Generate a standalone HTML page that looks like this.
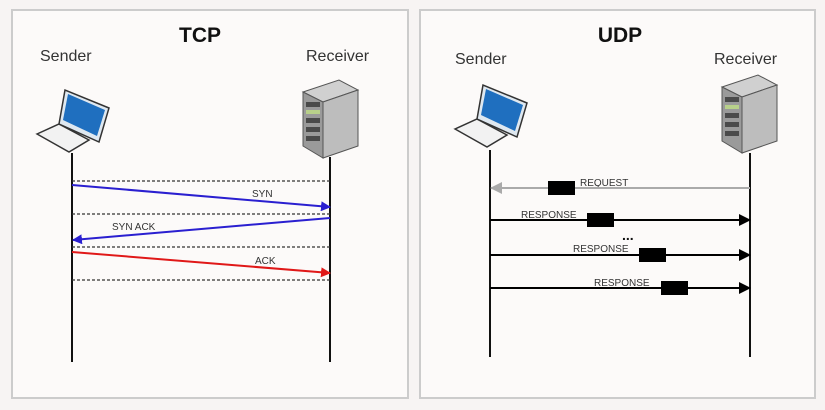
<!DOCTYPE html>
<html><head><style>body{margin:0;background:#f7f4f3}svg{display:block}</style></head><body>
<svg width="825" height="410" xmlns="http://www.w3.org/2000/svg" font-family="Liberation Sans, sans-serif">
<defs>
<g id="laptop">
<polygon points="0,48 22,38 52,54 32,66" fill="#f2f2f2" stroke="#333" stroke-width="1.5"/>
<polygon points="22,38 28,4 72,22 62,56" fill="#dfe8f0" stroke="#333" stroke-width="1.5"/>
<polygon points="26,34 31,8 68,24 60,50" fill="#1f6fbf"/>
</g>
<g id="server">
<polygon points="0,12 36,0 55,10 20,22" fill="#d0d0d0" stroke="#555" stroke-width="1"/>
<polygon points="0,12 20,22 20,78 0,66" fill="#9a9a9a" stroke="#555" stroke-width="1"/>
<polygon points="20,22 55,10 55,66 20,78" fill="#bdbdbd" stroke="#555" stroke-width="1"/>
<rect x="3" y="22" width="14" height="5" fill="#4a4a4a"/>
<rect x="3" y="30" width="14" height="4" fill="#b8d08a"/>
<rect x="3" y="38" width="14" height="5" fill="#4a4a4a"/>
<rect x="3" y="47" width="14" height="5" fill="#4a4a4a"/>
<rect x="3" y="56" width="14" height="5" fill="#4a4a4a"/>
</g>
<marker id="ab" markerWidth="10" markerHeight="10" refX="9" refY="5" orient="auto" markerUnits="userSpaceOnUse"><path d="M0,0 L10,5 L0,10z" fill="#2a1fd0"/></marker>
<marker id="ar" markerWidth="10" markerHeight="10" refX="9" refY="5" orient="auto" markerUnits="userSpaceOnUse"><path d="M0,0 L10,5 L0,10z" fill="#e01818"/></marker>
<marker id="ak" markerWidth="12" markerHeight="12" refX="11" refY="6" orient="auto" markerUnits="userSpaceOnUse"><path d="M0,0 L12,6 L0,12z" fill="#000"/></marker>
<marker id="ag" markerWidth="12" markerHeight="12" refX="11" refY="6" orient="auto" markerUnits="userSpaceOnUse"><path d="M0,0 L12,6 L0,12z" fill="#aaa"/></marker>
</defs>
<rect x="12" y="10" width="396" height="388" fill="#fcfaf9" stroke="#ccc" stroke-width="2"/>
<rect x="420" y="10" width="395" height="388" fill="#fcfaf9" stroke="#ccc" stroke-width="2"/>
<text x="200" y="42" font-size="21" font-weight="bold" text-anchor="middle" fill="#111">TCP</text>
<text x="620" y="42" font-size="21" font-weight="bold" text-anchor="middle" fill="#111">UDP</text>
<g font-size="16" fill="#333">
<text x="40" y="61">Sender</text><text x="306" y="61">Receiver</text>
<text x="455" y="64">Sender</text><text x="714" y="64">Receiver</text>
</g>
<use href="#laptop" x="37" y="86"/>
<use href="#server" x="303" y="80"/>
<use href="#laptop" x="455" y="81"/>
<use href="#server" x="722" y="75"/>
<g stroke="#111" stroke-width="2">
<line x1="72" y1="153" x2="72" y2="362"/><line x1="330" y1="157" x2="330" y2="362"/>
<line x1="490" y1="150" x2="490" y2="357"/><line x1="750" y1="153" x2="750" y2="357"/>
</g>
<g stroke="#333" stroke-width="1.3" stroke-dasharray="3,2">
<line x1="72" y1="181" x2="330" y2="181"/><line x1="72" y1="214" x2="330" y2="214"/>
<line x1="72" y1="247" x2="330" y2="247"/><line x1="72" y1="280" x2="330" y2="280"/>
</g>
<line x1="72" y1="185" x2="330" y2="207" stroke="#2a1fd0" stroke-width="2" marker-end="url(#ab)"/>
<line x1="330" y1="218" x2="73" y2="240" stroke="#2a1fd0" stroke-width="2" marker-end="url(#ab)"/>
<line x1="72" y1="252" x2="330" y2="273" stroke="#e01818" stroke-width="2" marker-end="url(#ar)"/>
<g font-size="10" fill="#333">
<text x="252" y="197">SYN</text><text x="112" y="230">SYN ACK</text><text x="255" y="264">ACK</text>
<text x="580" y="186">REQUEST</text><text x="521" y="218">RESPONSE</text>
<text x="573" y="252">RESPONSE</text><text x="594" y="286">RESPONSE</text>
</g>
<line x1="750" y1="188" x2="491" y2="188" stroke="#aaa" stroke-width="2" marker-end="url(#ag)"/>
<line x1="490" y1="220" x2="750" y2="220" stroke="#000" stroke-width="2" marker-end="url(#ak)"/>
<line x1="490" y1="255" x2="750" y2="255" stroke="#000" stroke-width="2" marker-end="url(#ak)"/>
<line x1="490" y1="288" x2="750" y2="288" stroke="#000" stroke-width="2" marker-end="url(#ak)"/>
<rect x="548" y="181" width="27" height="14" fill="#000"/>
<rect x="587" y="213" width="27" height="14" fill="#000"/>
<rect x="639" y="248" width="27" height="14" fill="#000"/>
<rect x="661" y="281" width="27" height="14" fill="#000"/>
<text x="622" y="240" font-size="14" font-weight="bold" fill="#111">...</text>
</svg>
</body></html>
